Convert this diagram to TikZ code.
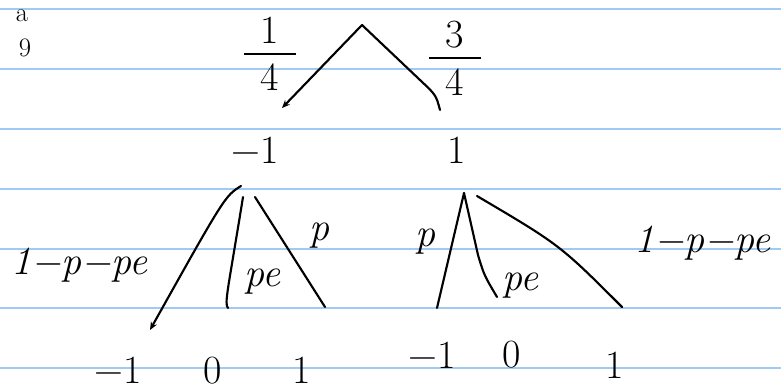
\documentclass[tikz,border=0pt]{standalone}
\usepackage{fontspec}
\usetikzlibrary{arrows.meta,calc}
\definecolor{ruleblue}{RGB}{160,202,245}
\tikzset{
  % --- paper -------------------------------------------------------------
  paperline/.style={draw=ruleblue, line width=1.6pt},
  % --- tree --------------------------------------------------------------
  branch/.style   ={draw=black, line width=1.6pt, line cap=round},
  brancharr/.style={branch, -{Stealth[length=6pt,width=5pt]}},
  lab/.style      ={font=\fontsize{30}{32}\selectfont, inner sep=1pt, text=black},
  prob/.style     ={lab, font=\fontsize{30}{32}\selectfont\itshape},
  stray/.style    ={font=\fontsize{20}{22}\selectfont, inner sep=0pt},
}
% handwritten-style fraction: number, bar, number
\newcommand{\handfrac}[2]{%
  \vbox{\offinterlineskip\halign{\hfil##\hfil\cr #1\cr\noalign{\kern7pt}
    \rule{1.3em}{1.5pt}\cr\noalign{\kern7pt}#2\cr}}}

\begin{document}
\begin{tikzpicture}[x=0.75pt, y=-0.75pt]

  % ============================= paper =============================
  \useasboundingbox (0,0) rectangle (781,390);
  \fill[white] (0,0) rectangle (781,390);
  \foreach \yy in {9,69,129,189,249,308,368}
    \draw[paperline] (0,\yy) -- (781,\yy);

  % stray marks in the corner
  \node[stray] (markA) at (22,16) {a};
  \node[stray] (markB) at (25,48) {9};

  % ============================= first stage =============================
  \coordinate (root) at (362,25);
  \coordinate (rootL) at (282,108);
  \coordinate (rootR) at (440,110);
  \draw[brancharr] (root) -- (rootL);
  \draw[branch] (root) -- (420,80) .. controls (436,95) .. (rootR);
  \node[lab] (qleft)  at (270,54) {\handfrac{1}{4}};
  \node[lab] (qright) at (455,58) {\handfrac{3}{4}};

  \node[lab] (mone) at (255,150) {−1};
  \node[lab] (one)  at (457,150) {1};

  % ============================= subtree of -1 =============================
  \coordinate (ma) at (241,186);
  \coordinate (maL) at (150,330);
  \coordinate (maM) at (228,308);
  \coordinate (maR) at (325,307);
  \draw[brancharr] (ma) .. controls (225,196) .. (maL);
  \draw[branch] (243,197) .. controls (228,290) and (224,304) .. (maM);
  \draw[branch] (255,197) -- (maR);
  \node[prob] (pa)  at (80,265)  {1−p−pe};
  \node[prob] (pb)  at (262,282) {pe};
  \node[prob] (pc)  at (319,236) {p};
  \node[lab] (la) at (118,370) {−1};
  \node[lab] (lb) at (213,371) {0};
  \node[lab] (lc) at (302,370) {1};

  % ============================= subtree of 1 =============================
  \coordinate (oa) at (464,193);
  \coordinate (oaL) at (437,308);
  \coordinate (oaM) at (497,297);
  \coordinate (oaR) at (622,307);
  \draw[branch] (oa) -- (oaL);
  \draw[branch] (oa) -- (478,255) .. controls (484,275) .. (oaM);
  \draw[branch] (477,196) .. controls (560,245) .. (oaR);
  \node[prob] (pd) at (425,242) {p};
  \node[prob] (pe) at (520,286) {pe};
  \node[prob] (pf) at (702,243) {1−p−pe};
  \node[lab] (ld) at (432,355) {−1};
  \node[lab] (le) at (512,355) {0};
  \node[lab] (lf) at (615,365) {1};

\end{tikzpicture}
\end{document}
